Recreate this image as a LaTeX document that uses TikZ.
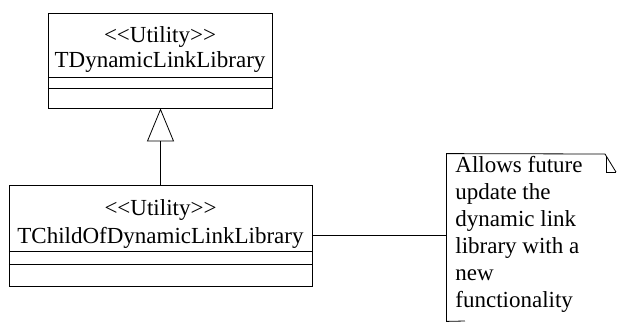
\documentclass[tikz,border=0pt]{standalone}
\usepackage{fontspec}
\setmainfont{Liberation Serif}
\usetikzlibrary{arrows.meta}
\newcommand\stereotype[1]{<\kern0pt<#1>\kern0pt>}
\begin{document}
\begin{tikzpicture}[x=0.5pt,y=-0.5pt,font=\fontsize{11.5}{13.5}\selectfont,
  classbox/.style={draw, inner sep=0pt},
  inherit/.style={-{Triangle[open,length=16.5pt,width=13.5pt]}}]
  \useasboundingbox (0,0) rectangle (618,323);

  % parent class
  \node [classbox, minimum width=112pt, minimum height=47.5pt] (dll) at (160,60.5) {};
  \node [anchor=base] (dll stereo) at (160,42) {\stereotype{Utility}};
  \node [anchor=base] (dll name) at (160,67) {TDynamicLinkLibrary};
  \draw (48,77) -- (272,77);
  \draw (48,88) -- (272,88);

  % child class
  \node [classbox, minimum width=151.5pt, minimum height=50.5pt] (child) at (160.5,235.5) {};
  \node [anchor=base] (child stereo) at (160.5,215) {\stereotype{Utility}};
  \node [anchor=base] (child name) at (160.5,243) {TChildOfDynamicLinkLibrary};
  \draw (9,251) -- (312,251);
  \draw (9,264) -- (312,264);

  \draw [inherit] (child.north) -- (child.north |- dll.south);

  % note
  \node [minimum width=84.5pt, minimum height=83.5pt, inner sep=0pt] (note) at (531.5,237.5) {};
  \draw (465,321) -- (note.south west) -- (note.north west) -- (605,154) -- (616,172);
  \draw (606,156) -- (606,172) -- (616,172);
  \node [anchor=base west, align=left, inner sep=0pt] (note text) at (455,307)
    {Allows future\\update the\\dynamic link\\library with a\\new\\functionality};

  \draw (child.east) -- (child.east -| note.west);

\end{tikzpicture}
\end{document}
